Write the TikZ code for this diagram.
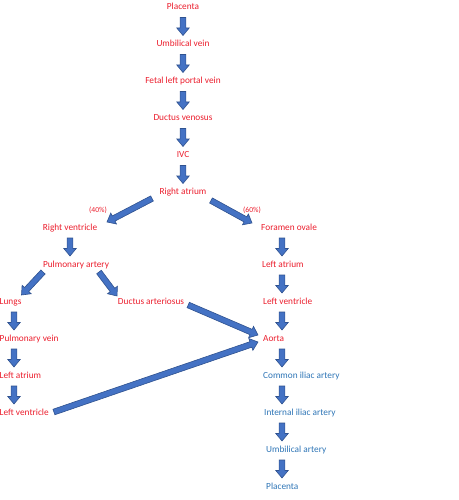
\documentclass[tikz,border=0pt]{standalone}
\usepackage{fontspec}
\setmainfont{Carlito}
\usetikzlibrary{calc,positioning}
\definecolor{myred}{RGB}{235,30,45}
\definecolor{myblue}{RGB}{46,117,182}
\definecolor{arrowfill}{RGB}{68,114,196}
\definecolor{arrowline}{RGB}{47,82,143}

% block arrow from #1 to #2
\newcommand{\flow}[2]{%
  \filldraw[draw=arrowline, fill=arrowfill, line width=0.6pt, line join=miter]
    let \p1=#1, \p2=#2, \n1={atan2(\y2-\y1,\x2-\x1)}, \n2={veclen(\x2-\x1,\y2-\y1)} in
    [shift={(\p1)}, rotate=\n1]
    (0pt,-2.9pt) -- ({\n2*1pt-7.5pt},-2.9pt) -- ({\n2*1pt-7.5pt},-6.2pt) -- ({\n2*1pt},0pt)
    -- ({\n2*1pt-7.5pt},6.2pt) -- ({\n2*1pt-7.5pt},2.9pt) -- (0pt,2.9pt) -- cycle;
}

\begin{document}
\begin{tikzpicture}[x=1pt,y=-1pt,
  redtext/.style={text=myred, font=\fontsize{9.3}{11}\selectfont, inner sep=0pt, text height=6pt, text depth=0pt},
  bluetext/.style={redtext, text=myblue},
  pct/.style={redtext, font=\fontsize{7.6}{9}\selectfont}]
\useasboundingbox (0,0) rectangle (458,500);

% middle column
\node[redtext] (placenta) at (183,6.5) {Placenta};
\node[redtext] (umbvein) at (183,43.5) {Umbilical vein};
\node[redtext] (portal) at (183,80.5) {Fetal left portal vein};
\node[redtext] (ductven) at (183,117.5) {Ductus venosus};
\node[redtext] (ivc) at (183,154.5) {IVC};
\node[redtext] (ratrium) at (183,191.5) {Right atrium};
\node[pct] (p40) at (98,209.5) {(40\%)};
\node[pct] (p60) at (252,209.5) {(60\%)};

% right ventricle branch
\node[redtext] (rvent) at (70,227) {Right ventricle};
\node[redtext] (pulart) at (76,264) {Pulmonary artery};
\node[redtext] (ductart) at (151,301) {Ductus arteriosus};
\node[redtext, anchor=west] (lungs) at (-0.5,301) {Lungs};
\node[redtext, anchor=west] (pulvein) at (-0.5,338) {Pulmonary vein};
\node[redtext, anchor=west] (latrium2) at (-0.5,375) {Left atrium};
\node[redtext, anchor=west] (lvent2) at (-0.5,412) {Left ventricle};

% foramen ovale branch
\node[redtext, anchor=west] (foramen) at (261,227) {Foramen ovale};
\node[redtext, anchor=west] (latrium) at (262,264) {Left atrium};
\node[redtext, anchor=west] (lvent) at (263,301) {Left ventricle};
\node[redtext, anchor=west] (aorta) at (263,338) {Aorta};
\node[bluetext, anchor=west] (iliac) at (263,375) {Common iliac artery};
\node[bluetext, anchor=west] (intiliac) at (264,412) {Internal iliac artery};
\node[bluetext, anchor=west] (umbart) at (266,449) {Umbilical artery};
\node[bluetext, anchor=west] (placenta2) at (266,486) {Placenta};

\coordinate (colL) at (14,0);
\coordinate (colR) at (282,0);

\foreach \a/\b in {placenta/umbvein, umbvein/portal, portal/ductven, ductven/ivc, ivc/ratrium}
  \flow{($(\a)+(0,11)$)}{($(\b)+(0,-8)$)};
\foreach \a/\b in {lungs/pulvein, pulvein/latrium2, latrium2/lvent2}
  \flow{($(colL |- \a)+(0,11)$)}{($(colL |- \b)+(0,-8)$)};
\foreach \a/\b in {foramen/latrium, latrium/lvent, lvent/aorta, aorta/iliac, iliac/intiliac, intiliac/umbart, umbart/placenta2}
  \flow{($(colR |- \a)+(0,11)$)}{($(colR |- \b)+(0,-8)$)};
\flow{($(rvent)+(0,11)$)}{($(rvent |- pulart)+(0,-8)$)};

\flow{($(ratrium)+(-31,7)$)}{($(rvent)+(37,-5)$)};
\flow{($(ratrium)+(28,9)$)}{($(foramen.west)+(-9,-4)$)};
\flow{($(pulart)+(-33,8)$)}{($(lungs.west)+(22,-6)$)};
\flow{($(pulart)+(23,8)$)}{($(ductart)+(-34,-5)$)};
\flow{($(ductart.east)+(4,4)$)}{($(aorta.west)+(-5,-3)$)};
\flow{($(lvent2.east)+(5,0)$)}{($(aorta.west)+(-5,4)$)};
\end{tikzpicture}
\end{document}
